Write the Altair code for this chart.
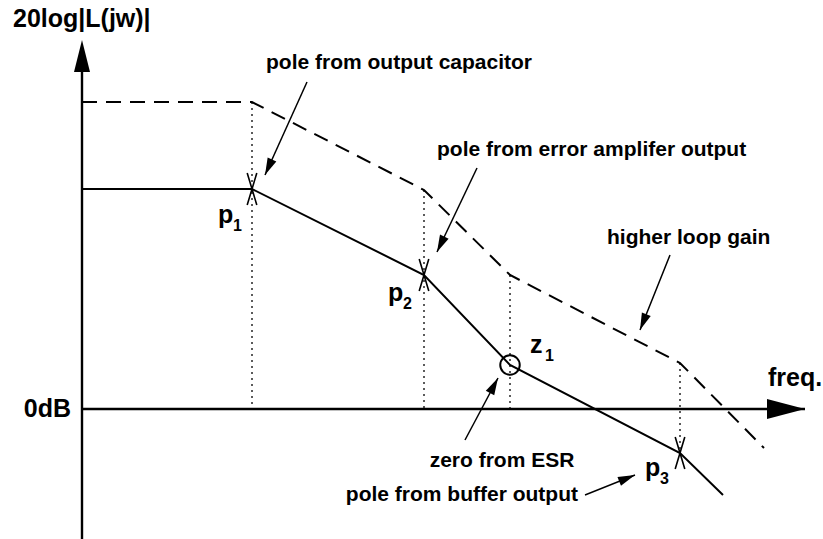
import math
import altair as alt
import pandas as pd

# ---- asymptotic loop-gain sketch (log-frequency in decades, magnitude in dB) ----
corner_freq = [0.0, 1.70, 3.42, 4.28, 5.98]
nominal_db = [88.0, 88.0, 53.6, 17.6, -17.6]     # solid curve
higher_db = [122.8, 122.8, 87.6, 53.6, 18.4]     # dashed curve, higher loop gain
nominal_tail = (6.41, -34.4)
higher_tail = (6.82, -15.6)
pole_idx = [1, 2, 4]
zero_idx = [3]

# pole / zero labels: base letter and subscript
label_base = ["p", "p", "z", "p"]
label_sub = ["1", "2", "1", "3"]
label_x = [1.36, 3.06, 4.48, 5.63]
label_y = [74.4, 43.2, 22.4, -26.8]

# annotation texts and their arrows
note_text = ["pole from output capacitor", "pole from error amplifer output",
             "higher loop gain", "zero from ESR", "pole from buffer output"]
note_x = [3.17, 3.55, 5.25, 4.20, 4.96]
note_y = [138.4, 103.6, 68.4, -20.8, -34.4]
note_align = ["center", "left", "left", "center", "right"]
arrow_from_x = [2.25, 3.95, 5.88, 3.83, 5.03]
arrow_from_y = [130.8, 96.4, 61.6, -12.4, -34.4]
arrow_to_x = [1.83, 3.55, 5.58, 4.16, 5.53]
arrow_to_y = [93.6, 62.8, 31.6, 12.4, -26.4]

# axes
axis_x_end = 7.23
axis_y_top = 147.6
axis_y_bottom = -52.0
y_title = "20log|L(jw)|"
x_title = "freq."
zero_label = "0dB"

W, H = 823, 539
X_DOMAIN = [-0.82, 7.41]
Y_DOMAIN = [-52.0, 163.6]
px_dec = W / (X_DOMAIN[1] - X_DOMAIN[0])
px_db = H / (Y_DOMAIN[1] - Y_DOMAIN[0])

xs = alt.Scale(domain=X_DOMAIN, nice=False, zero=False)
ys = alt.Scale(domain=Y_DOMAIN, nice=False, zero=False)
X = lambda f="x": alt.X(f"{f}:Q", scale=xs, axis=None)
Y = lambda f="y": alt.Y(f"{f}:Q", scale=ys, axis=None)
FONT = "Liberation Sans"

# ---- curves ----
solid = pd.DataFrame({"x": corner_freq + [nominal_tail[0]],
                      "y": nominal_db + [nominal_tail[1]]})
solid["o"] = range(len(solid))
dashed = pd.DataFrame({"x": corner_freq + [higher_tail[0]],
                       "y": higher_db + [higher_tail[1]]})
dashed["o"] = range(len(dashed))

solid_line = alt.Chart(solid).mark_line(color="black", strokeWidth=2).encode(
    x=X(), y=Y(), order="o:Q")
dashed_line = alt.Chart(dashed).mark_line(
    color="black", strokeWidth=2, strokeDash=[15, 9]).encode(
    x=X(), y=Y(), order="o:Q")

# dotted drop lines from each corner
drops = pd.DataFrame({
    "x": corner_freq[1:],
    "y": higher_db[1:],
    "y2": [min(0.0, v) for v in nominal_db[1:]],
})
drop_lines = alt.Chart(drops).mark_rule(
    color="#333333", strokeWidth=1.6, strokeDash=[2, 4]).encode(
    x=X(), y=Y(), y2="y2:Q")

# ---- pole and zero markers ----
poles = pd.DataFrame({"x": [corner_freq[i] for i in pole_idx],
                      "y": [nominal_db[i] for i in pole_idx]})
zeros = pd.DataFrame({"x": [corner_freq[i] for i in zero_idx],
                      "y": [nominal_db[i] for i in zero_idx]})
cross = "M -0.3 -1 L 0.3 1 M 0.3 -1 L -0.3 1"
pole_marks = alt.Chart(poles).mark_point(
    shape=cross, size=1024, filled=False, color="black", strokeWidth=1.6,
    opacity=1).encode(x=X(), y=Y())
zero_marks = alt.Chart(zeros).mark_point(
    shape="circle", size=380, filled=False, color="black", strokeWidth=2,
    opacity=1).encode(x=X(), y=Y())

# ---- axes with arrowheads ----
axes_df = pd.DataFrame({
    "x": [0.0, 0.0], "y": [axis_y_bottom, 0.0],
    "x2": [0.0, axis_x_end], "y2": [axis_y_top - 8, 0.0]})
axes_lines = alt.Chart(axes_df).mark_rule(color="black", strokeWidth=2.4).encode(
    x=X(), y=Y(), x2="x2:Q", y2="y2:Q")
up_head = alt.Chart(pd.DataFrame({"x": [0.0], "y": [axis_y_top]})).mark_point(
    shape="M 0 0 L 0.25 1 L -0.25 1 Z", size=4096, filled=True,
    color="black", opacity=1).encode(x=X(), y=Y())
right_head = alt.Chart(pd.DataFrame({"x": [axis_x_end], "y": [0.0]})).mark_point(
    shape="M 0 0 L -1 -0.26 L -1 0.26 Z", size=5776, filled=True,
    color="black", opacity=1).encode(x=X(), y=Y())

# ---- annotation arrows ----
arrows = pd.DataFrame({"x": arrow_from_x, "y": arrow_from_y,
                       "x2": arrow_to_x, "y2": arrow_to_y})
arrows["angle"] = [
    math.degrees(math.atan2((x2 - x1) * px_dec, (y2 - y1) * px_db)) % 360
    for x1, y1, x2, y2 in zip(arrow_from_x, arrow_from_y, arrow_to_x, arrow_to_y)]
arrow_lines = alt.Chart(arrows).mark_rule(color="black", strokeWidth=1.5).encode(
    x=X(), y=Y(), x2="x2:Q", y2="y2:Q")
arrow_heads = alt.Chart(arrows).mark_point(
    shape="M 0 0 L 0.28 1 L -0.28 1 Z", size=1156, filled=True,
    color="black", opacity=1).encode(
    x=X("x2"), y=Y("y2"), angle=alt.Angle("angle:Q", scale=None))

# ---- text ----
notes = pd.DataFrame({"t": note_text, "x": note_x, "y": note_y, "a": note_align})
note_layers = [
    alt.Chart(notes[notes.a == a]).mark_text(
        align=a, baseline="middle", font=FONT, fontWeight="bold", fontSize=21,
        color="black").encode(x=X(), y=Y(), text="t:N")
    for a in ["left", "center", "right"]]

labels = pd.DataFrame({"b": label_base, "s": label_sub,
                       "x": label_x, "y": label_y})
labels["xs"] = labels["x"] + 15 / px_dec
labels["ys"] = labels["y"] - 8 / px_db
base_text = alt.Chart(labels).mark_text(
    align="left", baseline="alphabetic", font=FONT, fontWeight="bold",
    fontSize=25, color="black").encode(x=X(), y=Y(), text="b:N")
sub_text = alt.Chart(labels).mark_text(
    align="left", baseline="alphabetic", font=FONT, fontWeight="bold",
    fontSize=16, color="black").encode(x=X("xs"), y=Y("ys"), text="s:N")

titles = pd.DataFrame({"t": [y_title, x_title], "x": [-0.69, 6.86],
                       "y": [156.0, 12.4]})
title_text = alt.Chart(titles).mark_text(
    align="left", baseline="middle", font=FONT, fontWeight="bold",
    fontSize=25, color="black").encode(x=X(), y=Y(), text="t:N")
zero_text = alt.Chart(pd.DataFrame({"t": [zero_label], "x": [-0.11], "y": [0.0]})).mark_text(
    align="right", baseline="middle", font=FONT, fontWeight="bold",
    fontSize=25, color="black").encode(x=X(), y=Y(), text="t:N")

chart = alt.layer(
    drop_lines, dashed_line, solid_line, axes_lines, up_head, right_head,
    pole_marks, zero_marks, arrow_lines, arrow_heads,
    *note_layers, base_text, sub_text, title_text, zero_text,
).properties(
    width=W, height=H, padding=0, background="white",
    autosize=alt.AutoSizeParams(type="none"),
).configure_view(stroke=None)

chart.save("out.html", embed_options={"renderer": "svg", "actions": False})
